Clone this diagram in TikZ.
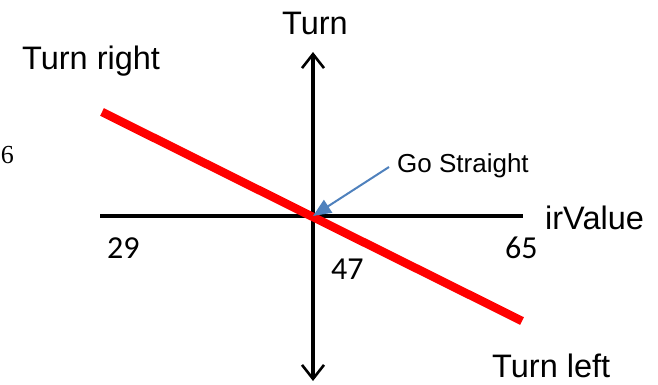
\documentclass[tikz,border=0pt]{standalone}
\usepackage{fontspec}
\setmainfont{Liberation Sans}
\newfontfamily\numfont{Carlito}
\newfontfamily\seriffont{Liberation Serif}
\usetikzlibrary{arrows.meta}
\definecolor{arrowblue}{RGB}{79,129,189}
\tikzset{
  axis/.style={line width=3.2pt, -{Straight Barb[length=14pt,width=22pt,line width=2.6pt]}},
  biglabel/.style={font=\fontsize{32.5}{36}\selectfont, inner sep=0pt},
  numlabel/.style={font=\numfont\fontsize{32}{36}\selectfont, inner sep=0pt},
}
\begin{document}
\begin{tikzpicture}[x=1pt,y=-1pt]
\useasboundingbox (0,0) rectangle (658,385);
\coordinate (o) at (313,216);
\coordinate (top) at (313,52);
\coordinate (bot) at (313,381);
\coordinate (left) at (100,216);
\coordinate (right) at (523,216);
\coordinate (rs) at (102,112);
\coordinate (re) at (522,321);
\draw[axis] (o) -- (top);
\draw[axis] (o) -- (bot);
\draw[line width=3.2pt] (left) -- (right);
\draw[red, line width=8.5pt] (rs) -- (re);
\node[biglabel, anchor=base] (turn) at (315,35) {Turn};
\node[biglabel, anchor=base west] (tr) at (22,70) {Turn right};
\node[biglabel, anchor=base west] (tl) at (492,377) {Turn left};
\node[biglabel, anchor=base west] (irv) at (545,229) {irValue};
\node[numlabel, anchor=base west] (n29) at (107,258) {29};
\node[numlabel, anchor=base west] (n65) at (505,258) {65};
\node[numlabel, anchor=base west] (n47) at (331,279) {47};
\node[font=\fontsize{26}{30}\selectfont, inner sep=0pt, anchor=base west] (gs) at (397,172) {Go Straight};
\coordinate (gsstart) at (389,167);
\draw[arrowblue, line width=2pt, -{Triangle[length=18pt,width=15pt]}] (gsstart) -- (o);
\node[font=\seriffont\fontsize{26}{28}\selectfont, inner sep=0pt, anchor=base east] (six) at (14,163) {6};
\end{tikzpicture}
\end{document}
